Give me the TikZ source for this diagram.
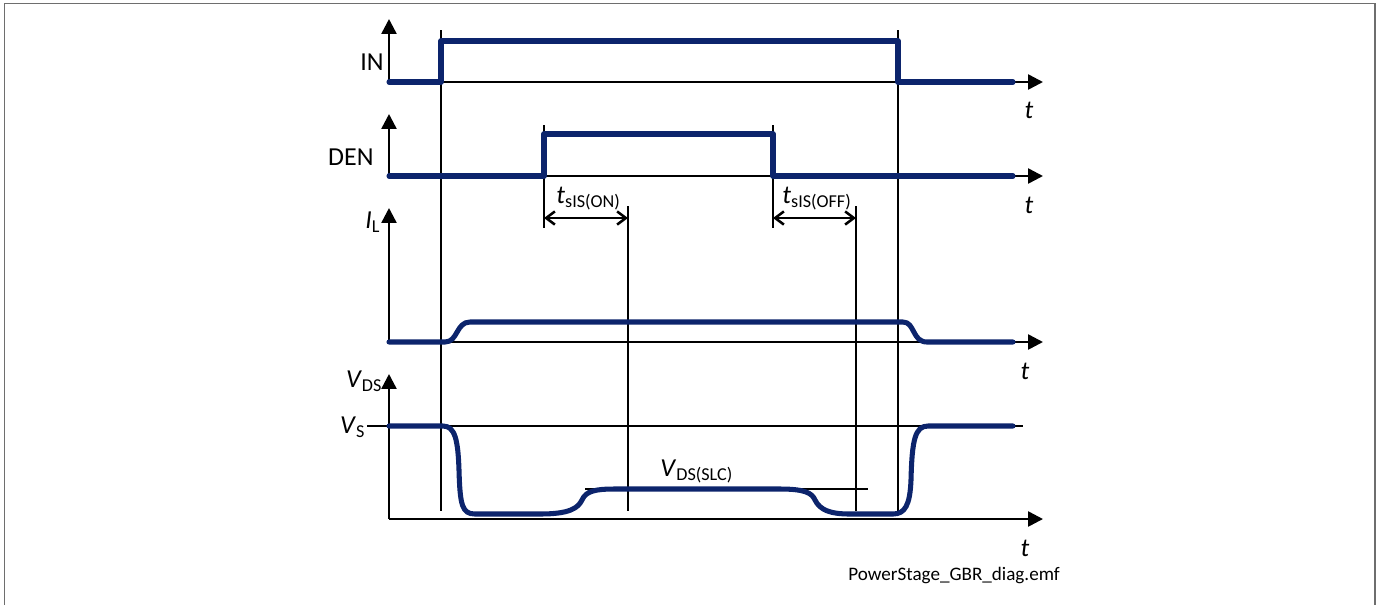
\documentclass[tikz,border=0pt]{standalone}
\usepackage{fontspec}
\setmainfont{Carlito}
\usetikzlibrary{arrows.meta}

\definecolor{sigblue}{RGB}{12,36,108}
\definecolor{framegray}{RGB}{110,110,110}

\tikzset{
  axis/.style={line width=1.15pt, -{Triangle[length=6.8pt,width=6.8pt]}},
  guide/.style={line width=1.15pt},
  sig/.style={line width=2.3pt, sigblue, line cap=round, line join=round},
  dim/.style={line width=1.15pt, {Straight Barb[length=4pt,width=6pt]}-{Straight Barb[length=4pt,width=6pt]}},
  lbl/.style={font=\fontsize{11.8}{13}\selectfont, inner sep=0pt},
}

\begin{document}
\begin{tikzpicture}[x=0.016cm, y=-0.016cm]

	\useasboundingbox (0,0) rectangle (1379,605);
	\draw[framegray, line width=0.9pt] (4.5,605) -- (4.5,3.5) -- (1374.5,3.5) -- (1374.5,605);

	% Axes origins
	\coordinate (oIN) at (389,82);
	\coordinate (oDEN) at (389,176);
	\coordinate (oIL) at (389,342);
	\coordinate (oVDS) at (389,519);

	% Axes
	\draw[axis] (oIN) -- (389,19);
	\draw[axis] (oIN) -- (1043,82);
	\draw[axis] (oDEN) -- (389,114);
	\draw[axis] (oDEN) -- (1043,176);
	\draw[axis] (oIL) -- (389,208);
	\draw[axis] (oIL) -- (1043,342);
	\draw[axis] (oVDS) -- (389,374);
	\draw[axis] (oVDS) -- (1043,519);

	% V_S level
	\draw[guide] (367,426) -- (1023,426);

	% Vertical guide lines
	\draw[guide] (441,30) -- (441,511);
	\draw[guide] (898,30) -- (898,511);
	\draw[guide] (544,125) -- (544,228);
	\draw[guide] (773,125) -- (773,228);
	\draw[guide] (628,206) -- (628,511);
	\draw[guide] (856,206) -- (856,511);

	% Delay times
	\draw[dim] (544,218) -- (628,218);
	\draw[dim] (773,218) -- (856,218);

	% V_DS(SLC) level
	\draw[guide] (585,489) -- (868,489);

	% Signals
	\draw[sig] (oIN) -- (441,82) -- (441,41) -- (898,41) -- (898,82) -- (1013,82);
	\draw[sig] (oDEN) -- (544,176) -- (544,134) -- (773,134) -- (773,176) -- (1013,176);
	\draw[sig] (oIL) -- (445,342) .. controls (458,342) and (456,322) .. (470,322)
		-- (903,322) .. controls (915,322) and (912,342) .. (927,342) -- (1013,342);
	\draw[sig] (389,426) -- (443,426) .. controls (455,426) and (458,440) .. (459,470)
		.. controls (460,505) and (462,514) .. (475,514) -- (540,514)
		.. controls (570,514) and (578,508) .. (582,500)
		.. controls (586,491) and (595,489) .. (615,489) -- (780,489)
		.. controls (805,489) and (812,493) .. (815,500)
		.. controls (820,510) and (830,514) .. (850,514) -- (893,514)
		.. controls (905,514) and (910,505) .. (911,480)
		.. controls (912,440) and (915,426) .. (928,426) -- (1013,426);

	% Labels
	\node[lbl, anchor=east] (lIN) at (384,62) {IN};
	\node[lbl, anchor=east] (lDEN) at (374,157) {DEN};
	\node[lbl, anchor=east] (lIL) at (381,222) {\textit{I}\textsubscript{L}};
	\node[lbl, anchor=east] (lVDS) at (383,381) {\textit{V}\textsubscript{DS}};
	\node[lbl, anchor=east] (lVS) at (366,427) {\textit{V}\textsubscript{S}};
	\node[lbl] (tIN) at (1029,110) {\textit{t}};
	\node[lbl] (tDEN) at (1029,205) {\textit{t}};
	\node[lbl] (tIL) at (1025,371) {\textit{t}};
	\node[lbl] (tVDS) at (1025,548) {\textit{t}};
	\node[lbl, anchor=base west] (lON) at (556,203) {\textit{t}\textsubscript{sIS(ON)}};
	\node[lbl, anchor=base west] (lOFF) at (782,203) {\textit{t}\textsubscript{sIS(OFF)}};
	\node[lbl, anchor=base west] (lSLC) at (660,476) {\textit{V}\textsubscript{DS(SLC)}};

	\node[font=\fontsize{8.7}{10}\selectfont, inner sep=0pt, anchor=base west] (fname) at (848,580) {PowerStage\_GBR\_diag.emf};

\end{tikzpicture}
\end{document}
